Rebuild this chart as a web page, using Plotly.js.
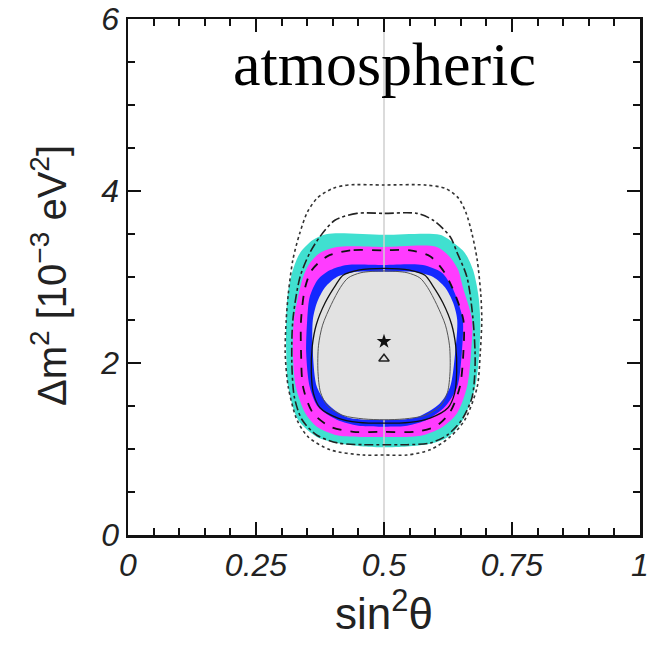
<!DOCTYPE html>
<html>
<head>
<meta charset="utf-8">
<script src="https://cdn.plot.ly/plotly-3.0.1.min.js"></script>
<style>html,body{margin:0;padding:0;background:#fff;}#chart{width:648px;height:648px;}</style>
</head>
<body>
<div id="chart"></div>
<script>
// ---- data ----
const xTickVals = [0, 0.25, 0.5, 0.75, 1];
const xTickText = ['0', '0.25', '0.5', '0.75', '1'];
const yTickVals = [0, 2, 4, 6];
const yTickText = ['0', '2', '4', '6'];

const dottedX = [0.5,0.43,0.40,0.37,0.35,0.335,0.322,0.313,0.309,0.307,0.313,0.330,0.352,0.395,0.459,0.5,0.545,0.590,0.629,0.658,0.682,0.688,0.691,0.689,0.682,0.672,0.660,0.645,0.620,0.58,0.5];
const dottedY = [4.07,4.07,4.03,3.92,3.75,3.50,3.20,2.80,2.50,2.12,1.72,1.34,1.14,0.99,0.93,0.93,0.93,0.99,1.14,1.34,1.72,2.12,2.50,2.80,3.20,3.50,3.75,3.92,4.03,4.07,4.07];

const dashdotX = [0.5,0.447,0.404,0.375,0.355,0.336,0.322,0.320,0.325,0.340,0.369,0.410,0.460,0.5,0.545,0.590,0.623,0.652,0.672,0.678,0.674,0.662,0.643,0.629,0.596,0.564,0.5];
const dashdotY = [3.74,3.74,3.66,3.47,3.28,3.00,2.50,2.00,1.60,1.34,1.16,1.07,1.05,1.05,1.05,1.07,1.16,1.34,1.60,2.00,2.50,3.00,3.28,3.47,3.66,3.74,3.74];

const cyanX = [0.5,0.389,0.361,0.336,0.322,0.312,0.309,0.309,0.313,0.332,0.369,0.408,0.460,0.5,0.545,0.590,0.625,0.654,0.678,0.686,0.688,0.684,0.674,0.658,0.635,0.609,0.5];
const cyanY = [3.49,3.50,3.43,3.28,3.08,2.80,2.50,2.12,1.72,1.34,1.14,1.07,1.03,1.02,1.03,1.06,1.14,1.34,1.72,2.12,2.50,2.80,3.08,3.28,3.40,3.49,3.49];

const magentaX = [0.5,0.408,0.375,0.355,0.342,0.324,0.322,0.328,0.346,0.369,0.408,0.460,0.5,0.540,0.576,0.615,0.643,0.662,0.670,0.672,0.654,0.645,0.629,0.603,0.5];
const magentaY = [3.35,3.35,3.28,3.16,3.00,2.50,2.12,1.72,1.42,1.26,1.16,1.14,1.14,1.14,1.16,1.26,1.42,1.72,2.12,2.50,2.88,3.08,3.23,3.35,3.35];

const dashedX = [0.5,0.434,0.389,0.359,0.346,0.338,0.338,0.342,0.361,0.395,0.440,0.5,0.560,0.600,0.628,0.648,0.655,0.655,0.633,0.615,0.590,0.551,0.5];
const dashedY = [3.31,3.31,3.24,3.08,2.88,2.50,2.12,1.72,1.42,1.26,1.20,1.20,1.20,1.26,1.42,1.72,2.12,2.50,2.88,3.08,3.24,3.31,3.31];

const blueX = [0.5,0.428,0.395,0.371,0.355,0.350,0.348,0.355,0.371,0.408,0.450,0.5,0.545,0.584,0.619,0.643,0.652,0.654,0.645,0.633,0.613,0.576,0.5];
const blueY = [3.14,3.14,3.08,2.97,2.77,2.50,2.12,1.72,1.49,1.34,1.27,1.26,1.27,1.34,1.49,1.72,2.12,2.50,2.70,2.88,3.05,3.14,3.14];

const grayX = [0.5,0.447,0.408,0.385,0.369,0.361,0.361,0.369,0.389,0.428,0.5,0.564,0.609,0.629,0.639,0.643,0.635,0.619,0.596,0.557,0.5];
const grayY = [3.06,3.06,3.00,2.88,2.70,2.50,2.12,1.72,1.53,1.37,1.34,1.37,1.53,1.72,2.12,2.50,2.70,2.88,3.00,3.06,3.06];

const thin1X = [0.5,0.45,0.42,0.405,0.385,0.368,0.36,0.358,0.362,0.375,0.41,0.45,0.5,0.55,0.59,0.625,0.638,0.642,0.64,0.632,0.615,0.595,0.58,0.55,0.5];
const thin1Y = [3.10,3.08,3.02,2.90,2.70,2.45,2.20,1.90,1.65,1.48,1.36,1.31,1.30,1.31,1.36,1.48,1.65,1.90,2.20,2.45,2.70,2.90,3.02,3.08,3.10];

const thin2X = [0.5,0.455,0.43,0.415,0.397,0.38,0.372,0.371,0.376,0.39,0.42,0.46,0.5,0.54,0.58,0.61,0.624,0.629,0.628,0.62,0.603,0.585,0.57,0.545,0.5];
const thin2Y = [3.07,3.05,2.99,2.88,2.68,2.44,2.20,1.90,1.66,1.50,1.39,1.35,1.34,1.35,1.39,1.50,1.66,1.90,2.20,2.44,2.68,2.88,2.99,3.05,3.07];

const starPoint = {x: [0.5], y: [2.25]};
const trianglePoint = {x: [0.5], y: [2.05]};
const refLineX = [0.5, 0.5];
const refLineY = [0, 6];

// ---- traces ----
function filled(x, y, color) {
  return {x: x, y: y, type: 'scatter', mode: 'lines', fill: 'toself', fillcolor: color,
          line: {width: 0, color: color, shape: 'spline', smoothing: 0.8}, hoverinfo: 'skip', showlegend: false};
}
function outline(x, y, color, width, dash) {
  return {x: x, y: y, type: 'scatter', mode: 'lines',
          line: {width: width, color: color, dash: dash, shape: 'spline', smoothing: 0.8}, hoverinfo: 'skip', showlegend: false};
}

const traces = [
  filled(cyanX, cyanY, '#40e0d0'),
  filled(magentaX, magentaY, '#ff3cff'),
  filled(blueX, blueY, '#1428ff'),
  {x: refLineX, y: refLineY, type: 'scatter', mode: 'lines', line: {color: '#cfcfcf', width: 1.5}, showlegend: false, hoverinfo: 'skip'},
  filled(grayX, grayY, '#e2e2e2'),
  outline(dottedX, dottedY, '#333', 1.6, 'dot'),
  outline(dashdotX, dashdotY, '#222', 1.6, 'dashdot'),
  outline(dashedX, dashedY, '#111', 1.8, 'dash'),
  outline(thin1X, thin1Y, '#111', 1.3, 'solid'),
  outline(thin2X, thin2Y, '#555', 1.0, 'solid'),
  {x: starPoint.x, y: starPoint.y, type: 'scatter', mode: 'markers',
   marker: {symbol: 'star', size: 11, color: '#111', line: {width: 0}}, showlegend: false, hoverinfo: 'skip'},
  {x: trianglePoint.x, y: trianglePoint.y, type: 'scatter', mode: 'markers',
   marker: {symbol: 'triangle-up-open', size: 9, color: '#222', line: {width: 1.5, color: '#222'}}, showlegend: false, hoverinfo: 'skip'}
];

const tickFont = {family: 'Liberation Sans, Arial, Helvetica, sans-serif', size: 32, style: 'italic', color: '#222'};

const layout = {
  width: 648, height: 648,
  margin: {l: 128, r: 8, t: 19, b: 113},
  paper_bgcolor: '#fff', plot_bgcolor: '#fff',
  showlegend: false,
  xaxis: {
    range: [0, 1], tickmode: 'array', tickvals: xTickVals, ticktext: xTickText,
    ticks: 'inside', ticklen: 13, tickwidth: 2, tickcolor: '#111',
    minor: {dtick: 0.05, ticks: 'inside', ticklen: 7, tickwidth: 2, tickcolor: '#111'},
    showline: true, linecolor: '#111', linewidth: 2.5, mirror: 'ticks',
    showgrid: false, zeroline: false, tickfont: tickFont, ticklabeloverflow: 'allow',
    title: {text: 'sin<sup>2</sup>θ', font: {family: 'Liberation Sans, Arial, sans-serif', size: 44, color: '#222'}, standoff: 16},
    automargin: false
  },
  yaxis: {
    range: [0, 6], tickmode: 'array', tickvals: yTickVals, ticktext: yTickText,
    ticks: 'inside', ticklen: 13, tickwidth: 2, tickcolor: '#111',
    minor: {dtick: 0.5, ticks: 'inside', ticklen: 7, tickwidth: 2, tickcolor: '#111'},
    showline: true, linecolor: '#111', linewidth: 2.5, mirror: 'ticks',
    showgrid: false, zeroline: false, tickfont: tickFont, ticklabeloverflow: 'allow',
    automargin: false
  },
  annotations: [
    {text: 'atmospheric', x: 0.5, y: 5.48, xref: 'x', yref: 'y', showarrow: false,
     font: {family: 'Liberation Serif, Times New Roman, serif', size: 62, color: '#000'}, xanchor: 'center', yanchor: 'middle'},
    {text: 'Δm<sup>2</sup> [10<sup>−3</sup> eV<sup>2</sup>]', x: 0, y: 0, xref: 'paper', yref: 'paper', showarrow: false,
     textangle: -90, font: {family: 'Liberation Sans, Arial, sans-serif', size: 40, color: '#222'}, xanchor: 'center', yanchor: 'middle'}
  ]
};
// convert y title position from pixels to paper coords
layout.annotations[1].x = (49 - 128) / (648 - 128 - 8);
layout.annotations[1].y = (535 - 276) / (535 - 19);

Plotly.newPlot('chart', traces, layout, {staticPlot: true, displayModeBar: false});
</script>
</body>
</html>
